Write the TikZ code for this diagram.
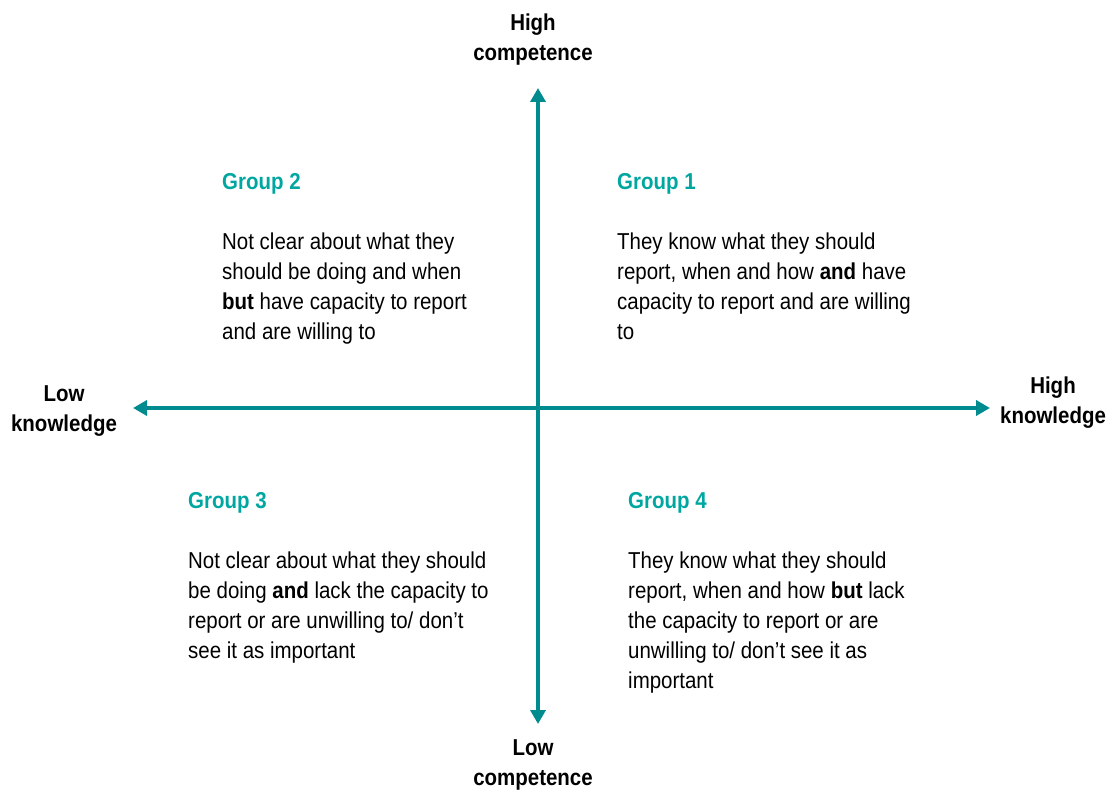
\documentclass[tikz,border=0pt]{standalone}
\usepackage{fontspec}
\setmainfont{Liberation Sans}[FakeStretch=0.89]
\usetikzlibrary{arrows.meta}
\definecolor{axisteal}{RGB}{0,140,142}
\definecolor{grpteal}{RGB}{0,166,160}
\tikzset{
  axisline/.style={line width=4pt, draw=axisteal, {Triangle[width=15pt,length=14pt]}-{Triangle[width=15pt,length=14pt]}},
  axislabel/.style={font=\fontsize{23}{30}\selectfont\bfseries, align=center, inner sep=0pt, anchor=base},
  grptitle/.style={font=\fontsize{23}{30}\selectfont\bfseries, text=grpteal, inner sep=0pt, anchor=base west},
  grpbody/.style={font=\fontsize{23}{30}\selectfont, align=left, inner sep=0pt, anchor=base west}
}
\begin{document}
\begin{tikzpicture}[x=1pt,y=-1pt]
\useasboundingbox (0,0) rectangle (1111,791);
% axes
\coordinate (left) at (133,408);
\coordinate (right) at (990,408);
\coordinate (top) at (538,88);
\coordinate (bottom) at (538,724);
\draw[axisline] (left) -- (right);
\draw[axisline] (bottom) -- (top);
% axis labels (base anchor = last line)
\node[axislabel] (hc) at (533,60.5) {High\\competence};
\node[axislabel] (lk) at (64,431.5) {Low\\knowledge};
\node[axislabel] (hk) at (1053,423.5) {High\\knowledge};
\node[axislabel] (lc) at (533,785.5) {Low\\competence};
% groups
\node[grptitle] (g2t) at (222,189.5) {Group 2};
\node[grpbody] (g2b) at (222,339.5) {Not clear about what they\\should be doing and when\\\textbf{but} have capacity to report\\and are willing to};
\node[grptitle] (g1t) at (617,189.5) {Group 1};
\node[grpbody] (g1b) at (617,339.5) {They know what they should\\report, when and how \textbf{and} have\\capacity to report and are willing\\to};
\node[grptitle] (g3t) at (188,508.5) {Group 3};
\node[grpbody] (g3b) at (188,658.5) {Not clear about what they should\\be doing \textbf{and} lack the capacity to\\report or are unwilling to/ don’t\\see it as important};
\node[grptitle] (g4t) at (628,508.5) {Group 4};
\node[grpbody] (g4b) at (628,688.5) {They know what they should\\report, when and how \textbf{but} lack\\the capacity to report or are\\unwilling to/ don’t see it as\\important};
\end{tikzpicture}
\end{document}
